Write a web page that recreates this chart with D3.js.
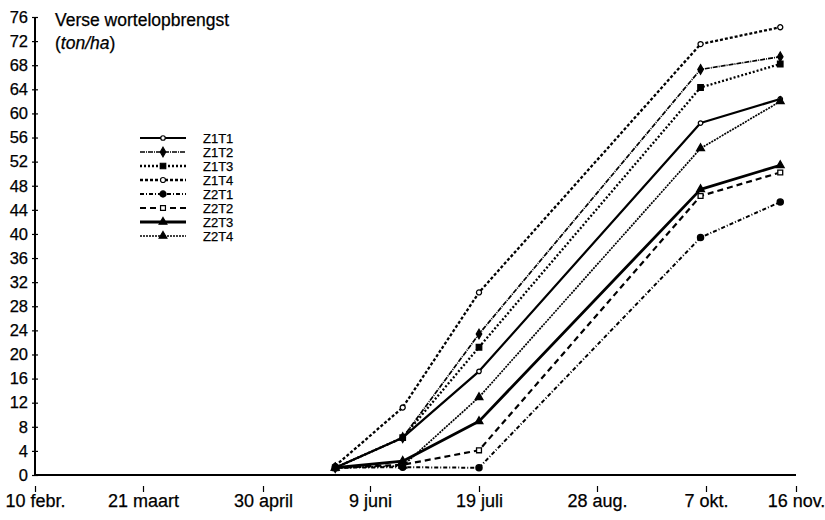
<!DOCTYPE html>
<html><head><meta charset="utf-8">
<script src="https://cdn.jsdelivr.net/npm/d3@7"></script>
<style>
body{margin:0;background:#fff}
text{font-family:"Liberation Sans",Arial,Helvetica,sans-serif;fill:#000;stroke:#000;stroke-width:0.25px}
</style>
</head><body>
<svg id="c" width="825" height="520"></svg>
<script>
// ---- data ----
const tickDates = ["1988-02-10","1988-03-21","1988-04-30","1988-06-09","1988-07-19","1988-08-28","1988-10-07","1988-11-16"];
const tickLabels = ["10 febr.","21 maart","30 april","9 juni","19 juli","28 aug.","7 okt.","16 nov."];
const sampleDates = ["1988-05-27","1988-06-21","1988-07-19","1988-10-05","1988-11-09"];
const seriesNames = ["Z1T1","Z1T2","Z1T3","Z1T4","Z2T1","Z2T2","Z2T3","Z2T4"];
const Z1T1 = [1.2, 6.2, 17.2, 58.4, 62.4];
const Z1T2 = [1.2, 6.2, 23.4, 67.3, 69.4];
const Z1T3 = [1.2, 6.2, 21.2, 64.3, 68.2];
const Z1T4 = [1.5, 11.2, 30.3, 71.5, 74.3];
const Z2T1 = [1.2, 1.3, 1.2, 39.4, 45.3];
const Z2T2 = [1.2, 1.7, 4.1, 46.3, 50.2];
const Z2T3 = [1.2, 2.3, 8.9, 47.4, 51.4];
const Z2T4 = [1.2, 1.5, 12.9, 54.2, 62.0];
const yTicks = d3.range(0, 77, 4);
const titleText = "Verse wortelopbrengst";
const unitText = "ton/ha";

// ---- styles (not data) ----
const seriesValues = [Z1T1, Z1T2, Z1T3, Z1T4, Z2T1, Z2T2, Z2T3, Z2T4];
const styles = {
  Z1T1:{dash:null, w:2.2, sym:d3.symbolCircle, fill:"#fff", size:16},
  Z1T2:{dash:"5,1,1,1", w:1.7, sym:d3.symbolDiamond, fill:"#000", size:26},
  Z1T3:{dash:"2,2", w:2.3, sym:d3.symbolSquare, fill:"#000", size:30},
  Z1T4:{dash:"3,2", w:2.3, sym:d3.symbolCircle, fill:"#fff", size:20},
  Z2T1:{dash:"4,2,1,2", w:2, sym:d3.symbolCircle, fill:"#000", size:30},
  Z2T2:{dash:"6,4", w:2.2, sym:d3.symbolSquare, fill:"#fff", size:24},
  Z2T3:{dash:null, w:2.8, sym:d3.symbolTriangle, fill:"#000", size:26},
  Z2T4:{dash:"2,1", w:1.7, sym:d3.symbolTriangle, fill:"#000", size:26}
};

const parse = d3.timeParse("%Y-%m-%d");
const svg = d3.select("#c");
const FONT = '"Liberation Sans",Arial,sans-serif';

const x = d3.scaleTime()
  .domain(tickDates.map(parse))
  .range([35, 143, 263, 370, 479, 597, 706, 796]);
const y = d3.scaleLinear().domain([0, 76]).range([475, 17]);

// y axis
const yAxis = svg.append("g").attr("transform", "translate(35,0)")
  .call(d3.axisLeft(y).tickValues(yTicks).tickSize(0).tickPadding(7));
yAxis.select(".domain").remove();
yAxis.selectAll("text").attr("font-size", 16.5).style("font-family", FONT);
yAxis.selectAll(".tick").append("line").attr("x1", -3).attr("x2", 3).attr("stroke", "#000").attr("stroke-width", 1.2);
svg.append("line").attr("x1", 35).attr("x2", 35).attr("y1", y(76)).attr("y2", y(0) + 1)
  .attr("stroke", "#000").attr("stroke-width", 2);

// x axis
svg.append("line").attr("x1", 34).attr("x2", x(parse(tickDates[tickDates.length - 1]))).attr("y1", y(0)).attr("y2", y(0))
  .attr("stroke", "#000").attr("stroke-width", 2);
const xAxis = svg.append("g").attr("transform", "translate(0,486)")
  .call(d3.axisBottom(x).tickValues(tickDates.map(parse)).tickFormat((d, i) => tickLabels[i]).tickSize(6).tickPadding(2.5));
xAxis.select(".domain").remove();
xAxis.selectAll(".tick line").attr("stroke-width", 1.2);
xAxis.selectAll("text").attr("font-size", 18).style("font-family", FONT);

// title
svg.append("text").attr("x", 55).attr("y", 26).attr("font-size", 17.5).text(titleText);
const t2 = svg.append("text").attr("x", 55).attr("y", 49).attr("font-size", 17.5);
t2.append("tspan").text("(");
t2.append("tspan").attr("font-style", "italic").text(unitText);
t2.append("tspan").text(")");

// lines
const line = d3.line().x((d, i) => x(parse(sampleDates[i]))).y(d => y(d));
const g = svg.append("g");
seriesNames.forEach((name, k) => {
  const s = styles[name];
  g.append("path").datum(seriesValues[k]).attr("d", line)
    .attr("fill", "none").attr("stroke", "#000").attr("stroke-width", s.w)
    .attr("stroke-dasharray", s.dash).attr("stroke-linejoin", "round");
});
seriesNames.forEach((name, k) => {
  const s = styles[name];
  g.selectAll(null).data(seriesValues[k]).join("path")
    .attr("transform", (d, i) => `translate(${x(parse(sampleDates[i]))},${y(d)})`)
    .attr("d", d3.symbol(s.sym, s.size))
    .attr("fill", s.fill).attr("stroke", "#000").attr("stroke-width", 1.3);
});

// legend
const lg = svg.append("g").attr("transform", "translate(140,138)");
seriesNames.forEach((name, k) => {
  const s = styles[name];
  const row = lg.append("g").attr("transform", `translate(0,${k * 14})`);
  row.append("line").attr("x1", 0).attr("x2", 46).attr("stroke", "#000")
    .attr("stroke-width", s.w).attr("stroke-dasharray", s.dash);
  row.append("path").attr("transform", "translate(23,0)").attr("d", d3.symbol(s.sym, s.size))
    .attr("fill", s.fill).attr("stroke", "#000").attr("stroke-width", 1.2);
  row.append("text").attr("x", 63).attr("y", 4.5).attr("font-size", 13).text(name);
});
</script>
</body></html>
